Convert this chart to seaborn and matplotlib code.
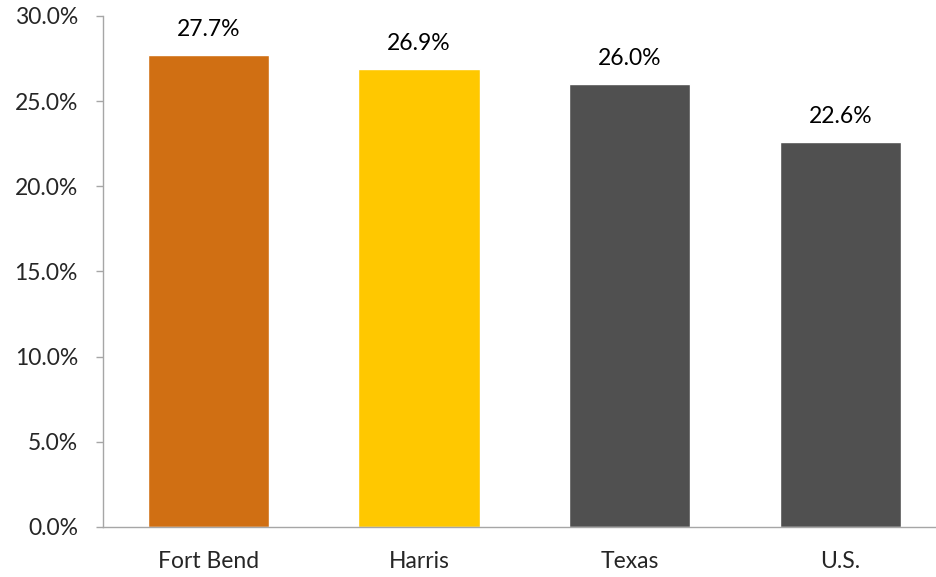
import numpy as np
import pandas as pd
import matplotlib
matplotlib.use("Agg")
import matplotlib.pyplot as plt
import seaborn as sns
from matplotlib.ticker import FuncFormatter

# data
regions = ["Fort Bend", "Harris", "Texas", "U.S."]
shares = [27.7, 26.9, 26.0, 22.6]
bar_colors = ["#D06F13", "#FFC800", "#505050", "#505050"]

df = pd.DataFrame({"region": regions, "share": shares})

sns.set_style("white")
plt.rcParams["font.family"] = ["Lato", "DejaVu Sans"]

fig = plt.figure(figsize=(9.36, 5.77), dpi=100)
ax = fig.add_axes([0.110, 0.0867, 0.89, 0.8856])

sns.barplot(data=df, x="region", y="share", hue="region", palette=bar_colors,
            width=0.575, saturation=1, legend=False, ax=ax)

for i, v in enumerate(shares):
    ax.annotate(f"{v:.1f}%", (i, v), xytext=(0, 11), textcoords="offset points",
                ha="center", va="bottom", fontsize=16.5, color="#000000")

ax.set_ylim(0, 30)
ax.set_xlim(-0.5, 3.453)
ax.set_yticks(np.arange(0, 31, 5))
ax.yaxis.set_major_formatter(FuncFormatter(lambda y, _: f"{y:.1f}%"))
ax.set_xlabel("")
ax.set_ylabel("")

for s in ["top", "right"]:
    ax.spines[s].set_visible(False)
for s in ["left", "bottom"]:
    ax.spines[s].set_color("#A6A6A6")
    ax.spines[s].set_linewidth(1.0)

ax.tick_params(axis="y", direction="out", length=5, color="#A6A6A6", width=1,
               labelsize=16.5, pad=13, left=True)
ax.tick_params(axis="x", length=0, labelsize=16.5, pad=17)

fig.savefig("out.png", dpi=100)
